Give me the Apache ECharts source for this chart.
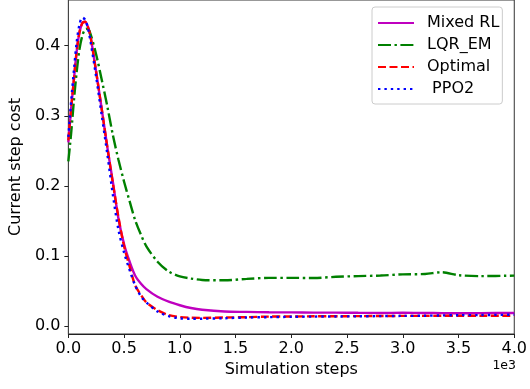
<!DOCTYPE html>
<html>
<head>
<meta charset="utf-8">
<script src="https://cdn.jsdelivr.net/npm/echarts@6/dist/echarts.min.js"></script>
<style>
html,body{margin:0;padding:0;background:#fff;}
#chart{width:530px;height:389px;}
</style>
</head>
<body>
<div id="chart"></div>
<script>
var steps = [0, 25, 50, 75, 100, 125, 150, 175, 200, 250, 300, 350, 400, 450, 500, 550, 600, 650, 700, 800, 900, 1000, 1100, 1200, 1400, 1600, 1800, 2000, 2200, 2400, 2600, 2800, 3000, 3200, 3350, 3500, 3700, 4000];
var mixedRL = [0.262, 0.31, 0.352, 0.392, 0.419, 0.432, 0.434, 0.427, 0.412, 0.362, 0.309, 0.255, 0.205, 0.153, 0.117, 0.092, 0.072, 0.061, 0.053, 0.042, 0.035, 0.030, 0.026, 0.0235, 0.021, 0.0205, 0.020, 0.0198, 0.0195, 0.0195, 0.0192, 0.019, 0.0192, 0.019, 0.0188, 0.0185, 0.0188, 0.019];
var lqrEM = [0.235, 0.275, 0.322, 0.363, 0.395, 0.414, 0.423, 0.424, 0.416, 0.387, 0.351, 0.313, 0.272, 0.237, 0.206, 0.178, 0.151, 0.131, 0.114, 0.092, 0.078, 0.071, 0.068, 0.066, 0.0655, 0.0675, 0.069, 0.069, 0.0688, 0.0705, 0.0715, 0.0723, 0.074, 0.0745, 0.077, 0.0728, 0.0715, 0.0722];
var optimal = [0.265, 0.31, 0.352, 0.392, 0.419, 0.432, 0.434, 0.427, 0.412, 0.362, 0.309, 0.255, 0.203, 0.155, 0.114, 0.085, 0.058, 0.045, 0.034, 0.023, 0.016, 0.0132, 0.0122, 0.012, 0.0125, 0.013, 0.0138, 0.014, 0.0142, 0.0143, 0.0145, 0.0146, 0.0148, 0.0148, 0.015, 0.015, 0.015, 0.015];
var ppo2 = [0.27, 0.32, 0.365, 0.405, 0.43, 0.44, 0.437, 0.425, 0.405, 0.355, 0.30, 0.245, 0.187, 0.137, 0.105, 0.080, 0.058, 0.043, 0.034, 0.021, 0.0145, 0.0113, 0.0107, 0.0108, 0.0115, 0.0125, 0.013, 0.0135, 0.0138, 0.014, 0.0142, 0.0145, 0.0148, 0.015, 0.0155, 0.0158, 0.016, 0.0165];
var xTicks = [0, 500, 1000, 1500, 2000, 2500, 3000, 3500, 4000];
var yTicks = [0, 0.1, 0.2, 0.3, 0.4];

function pairs(v){ return steps.map(function(s,i){ return [s, v[i]]; }); }

var chart = echarts.init(document.getElementById('chart'), null, {renderer:'canvas'});
var font = 'DejaVu Sans';
chart.setOption({
  animation: false,
  backgroundColor: '#fff',
  textStyle: {fontFamily: font},
  grid: {left: 63, right: 14, top: -3, bottom: 55, show: true, borderColor: '#333', borderWidth: 1, backgroundColor: 'transparent'},
  legend: {
    orient: 'vertical', left: 372, top: 7,
    itemWidth: 36, itemHeight: 14, itemGap: 6,
    padding: [8, 3, 7, 5],
    borderColor: '#ccc', borderWidth: 1, borderRadius: 3,
    backgroundColor: 'rgba(255,255,255,0.8)',
    itemStyle: {opacity: 0},
    textStyle: {fontFamily: font, fontSize: 16, color: '#000', padding: [0,0,0,8]},
    data: ['Mixed RL', 'LQR_EM', 'Optimal', ' PPO2']
  },
  xAxis: {
    type: 'value', min: 0, max: 4000, interval: 500,
    axisLine: {onZero: false, lineStyle: {color: '#222', width: 1}},
    axisTick: {show: true, length: 4, lineStyle: {color: '#222'}},
    splitLine: {show: false},
    axisLabel: {fontFamily: font, fontSize: 16, color: '#000', margin: 7,
      formatter: function(v){ return (v/1000).toFixed(1); }},
    name: 'Simulation steps', nameLocation: 'middle', nameGap: 27,
    nameTextStyle: {fontFamily: font, fontSize: 16, color: '#000'}
  },
  yAxis: {
    type: 'value', min: -0.011, max: 0.465, minInterval: 0.1, maxInterval: 0.1,
    axisLine: {show: true, lineStyle: {color: '#444', width: 1}},
    axisTick: {show: true, length: 4, lineStyle: {color: '#222'},
      customValues: yTicks},
    splitLine: {show: false},
    axisLabel: {fontFamily: font, fontSize: 16, color: '#000', margin: 8,
      customValues: yTicks,
      formatter: function(v){ return (Math.round(v*10)/10).toFixed(1); }},
    name: 'Current step cost', nameLocation: 'middle', nameGap: 43, nameRotate: 90,
    nameTextStyle: {fontFamily: font, fontSize: 16, color: '#000'}
  },
  graphic: [{
    type: 'text', right: 14, top: 359,
    style: {text: '1e3', font: '12.5px "DejaVu Sans"', fill: '#000'}
  }],
  series: [
    {name: 'Mixed RL', type: 'line', data: pairs(mixedRL), showSymbol: false, symbol: 'none', smooth: 0.3,
     lineStyle: {color: '#bf00bf', width: 2.4, type: 'solid'}, itemStyle: {color: '#bf00bf'}},
    {name: 'LQR_EM', type: 'line', data: pairs(lqrEM), showSymbol: false, symbol: 'none', smooth: 0.3,
     lineStyle: {color: '#008000', width: 2.4, type: [13, 3.5, 2.4, 3.5]}, itemStyle: {color: '#008000'}},
    {name: 'Optimal', type: 'line', data: pairs(optimal), showSymbol: false, symbol: 'none', smooth: 0.3,
     lineStyle: {color: '#ff0000', width: 2.4, type: [8, 3.5]}, itemStyle: {color: '#ff0000'}},
    {name: ' PPO2', type: 'line', data: pairs(ppo2), showSymbol: false, symbol: 'none', smooth: 0.3,
     lineStyle: {color: '#0000ff', width: 2.4, type: [2.4, 4]}, itemStyle: {color: '#0000ff'}}
  ]
});
</script>
</body>
</html>
